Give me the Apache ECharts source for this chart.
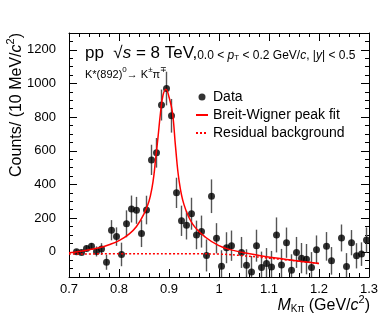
<!DOCTYPE html>
<html>
<head>
<meta charset="utf-8">
<script src="https://cdn.jsdelivr.net/npm/echarts@6/dist/echarts.min.js"></script>
<style>html,body{margin:0;padding:0;background:#fff}#c{width:382px;height:327px}</style>
</head>
<body>
<div id="c"></div>
<script>
// Data points (bin centres, counts per 10 MeV/c^2, statistical errors)
const massBins = [0.715,0.725,0.735,0.745,0.755,0.765,0.775,0.785,0.795,0.805,0.815,0.825,0.835,0.845,0.855,0.865,0.875,0.885,0.895,0.905,0.915,0.925,0.935,0.945,0.955,0.965,0.975,0.985,0.995,1.005,1.015,1.025,1.035,1.045,1.055,1.065,1.075,1.085,1.095,1.105,1.115,1.125,1.135,1.145,1.155,1.165,1.175,1.185,1.195,1.205,1.215,1.225,1.235,1.245,1.255,1.265,1.275,1.285,1.295];
const counts = [0,-4,20,32,2,16,-62,128,90,-16,166,254,246,108,248,546,588,872,970,808,350,184,158,226,100,120,-22,330,80,-86,24,36,null,-4,-80,-120,36,-94,-70,-90,100,-78,54,-110,-4,-38,-44,-94,12,null,32,-54,null,82,-88,54,-24,-14,70];
const errors = [14,15,18,20,30,35,45,60,55,70,80,80,80,80,85,90,88,92,100,100,90,90,85,95,85,95,95,100,90,95,92,90,90,92,95,95,95,95,92,95,104,95,90,95,92,90,90,92,85,85,85,82,80,80,80,75,75,70,75];
// Breit-Wigner peak fit
const fitMass = [0.700,0.720,0.740,0.760,0.780,0.800,0.820,0.835,0.850,0.860,0.866,0.870,0.873,0.878,0.883,0.888,0.894,0.900,0.907,0.913,0.920,0.930,0.947,0.973,1.000,1.020,1.050,1.080,1.110,1.140,1.170,1.200];
const fitVal  = [-6,2,12,24,42,66,105,150,225,300,380,460,546,680,826,930,966,920,826,626,426,280,166,86,36,14,-6,-22,-36,-48,-60,-70];
// Residual background
const bgMass = [0.700,0.800,0.900,0.950,1.000,1.050,1.100,1.150,1.200];
const bgVal  = [-14,-12,-12,-12,-14,-24,-38,-53,-70];
// Axis ticks
const xTicks = [0.7,0.8,0.9,1.0,1.1,1.2,1.3];
const yTicks = [0,200,400,600,800,1000,1200];

const FONT = '"Liberation Sans", Arial, Helvetica, sans-serif';
const chart = echarts.init(document.getElementById('c'), null, {renderer:'canvas'});

const pts = [], errs = [];
massBins.forEach((m,i)=>{ if(counts[i]!==null){ pts.push([m,counts[i]]); errs.push([m,counts[i],errors[i]]); } });

const yMinor = [];
for (let v=-150; v<=1300; v+=50) yMinor.push(v);

const lineAxis = {lineStyle:{color:'#000',width:1}};
function yAx(pos, major, labels){
  return {type:'value', position:pos, min:-150, max:1300, gridIndex:0,
    axisLine:{show:major, onZero:false, ...lineAxis},
    axisTick:{show:true, inside:true, length: major?8:4, customValues: major?yTicks:yMinor, lineStyle:{color:'#000'}},
    axisLabel:{show:labels, customValues:yTicks, fontSize:13, color:'#000', fontFamily:FONT, margin:13,
      formatter:v=>String(v)},
    splitLine:{show:false}};
}
function xAx(pos, labels){
  return {type:'value', position:pos, min:0.7, max:1.3, interval:0.1,
    axisLine:{show:true, onZero:false, ...lineAxis},
    axisTick:{show:true, inside:true, length:8, lineStyle:{color:'#000'}},
    minorTick:{show:true, splitNumber:5, length:4, lineStyle:{color:'#000'}},
    axisLabel:{show:labels, fontSize:13, color:'#000', fontFamily:FONT, margin:6,
      formatter:v=>String(+v.toFixed(2))},
    splitLine:{show:false}, minorSplitLine:{show:false}};
}

chart.setOption({
  animation:false,
  backgroundColor:'#fff',
  grid:{left:69, right:13, top:33, bottom:50},
  xAxis:[xAx('bottom',true), xAx('top',false)],
  yAxis:[yAx('left',true,true), yAx('left',false,false), yAx('right',true,false), yAx('right',false,false)],
  legend:{orient:'vertical', left:195, top:90, itemWidth:12, itemHeight:7, itemGap:4, padding:0,
    textStyle:{fontSize:14, color:'#000', fontFamily:FONT},
    data:[{name:'Data'},
          {name:'Breit-Wigner peak fit', itemStyle:{opacity:0}},
          {name:'Residual background', itemStyle:{opacity:0}}]},
  series:[
    {type:'custom', name:'err', data:errs, clip:true, z:2,
      renderItem:(params, api)=>{
        const m=api.value(0), v=api.value(1), e=api.value(2);
        const p1=api.coord([m,v-e]), p2=api.coord([m,v+e]);
        return {type:'line', shape:{x1:p1[0],y1:p1[1],x2:p2[0],y2:p2[1]}, style:{stroke:'#555', lineWidth:1.4}};
      }},
    {type:'scatter', name:'Data', data:pts, symbol:'circle', symbolSize:7, itemStyle:{color:'#000'}, z:3},
    {type:'line', name:'Breit-Wigner peak fit', data:fitMass.map((m,i)=>[m,fitVal[i]]), smooth:0.4, symbol:'none',
      lineStyle:{color:'#ff0000', width:1.5}, itemStyle:{color:'#ff0000'}, z:4},
    {type:'line', name:'Residual background', data:bgMass.map((m,i)=>[m,bgVal[i]]), smooth:true, symbol:'none',
      lineStyle:{color:'#ff0000', width:1.5, type:[2,2]}, itemStyle:{color:'#ff0000'}, z:4}
  ],
  graphic:[
    {type:'text', x:85, y:52, style:{
      text:'{b|pp  √}{bi|s}{b| = 8 TeV,}{s|0.0 < }{si|p}{sub|T}{s| < 0.2 GeV/}{si|c}{s|, |}{si|y}{s|| < 0.5}',
      textVerticalAlign:'middle', fontFamily:FONT,
      rich:{
        b:{fontSize:17, fontFamily:FONT, verticalAlign:'bottom', lineHeight:19, fill:'#000'},
        bi:{fontSize:17, fontStyle:'italic', fontFamily:FONT, verticalAlign:'bottom', lineHeight:19, fill:'#000'},
        s:{fontSize:12, fontFamily:FONT, verticalAlign:'bottom', lineHeight:15, fill:'#000'},
        si:{fontSize:12, fontStyle:'italic', fontFamily:FONT, verticalAlign:'bottom', lineHeight:15, fill:'#000'},
        sub:{fontSize:8, fontFamily:FONT, verticalAlign:'bottom', lineHeight:10, fill:'#000'}
      }}},
    {type:'text', x:85, y:73, style:{
      text:'{n|K*(892)}{sup|0}{n|→ K}{sup|±}{n|π}{sup|∓}',
      textVerticalAlign:'middle', fontFamily:FONT,
      rich:{
        n:{fontSize:11, fontFamily:FONT, verticalAlign:'bottom', lineHeight:14, fill:'#000'},
        sup:{fontSize:8, fontFamily:FONT, verticalAlign:'top', lineHeight:9, fill:'#000'}
      }}},
    {type:'text', x:15, y:33, rotation:Math.PI/2, style:{
      text:'{n|Counts/ (10 MeV/}{i|c}{sup|2}{n|)}',
      textAlign:'right', textVerticalAlign:'middle', fontFamily:FONT,
      rich:{
        n:{fontSize:16, fontFamily:FONT, verticalAlign:'bottom', lineHeight:20, fill:'#000'},
        i:{fontSize:16, fontStyle:'italic', fontFamily:FONT, verticalAlign:'bottom', lineHeight:20, fill:'#000'},
        sup:{fontSize:11, fontFamily:FONT, verticalAlign:'top', lineHeight:12, fill:'#000'}
      }}},
    {type:'text', x:370, y:304, style:{
      text:'{i|M}{sub|Kπ}{n| (GeV/}{i|c}{sup|2}{n|)}',
      textAlign:'right', textVerticalAlign:'middle', fontFamily:FONT,
      rich:{
        n:{fontSize:16, fontFamily:FONT, verticalAlign:'bottom', lineHeight:20, fill:'#000'},
        i:{fontSize:16, fontStyle:'italic', fontFamily:FONT, verticalAlign:'bottom', lineHeight:20, fill:'#000'},
        sub:{fontSize:10, fontFamily:FONT, verticalAlign:'bottom', lineHeight:14, fill:'#000'},
        sup:{fontSize:11, fontFamily:FONT, verticalAlign:'top', lineHeight:12, fill:'#000'}
      }}}
  ]
});
</script>
</body>
</html>
